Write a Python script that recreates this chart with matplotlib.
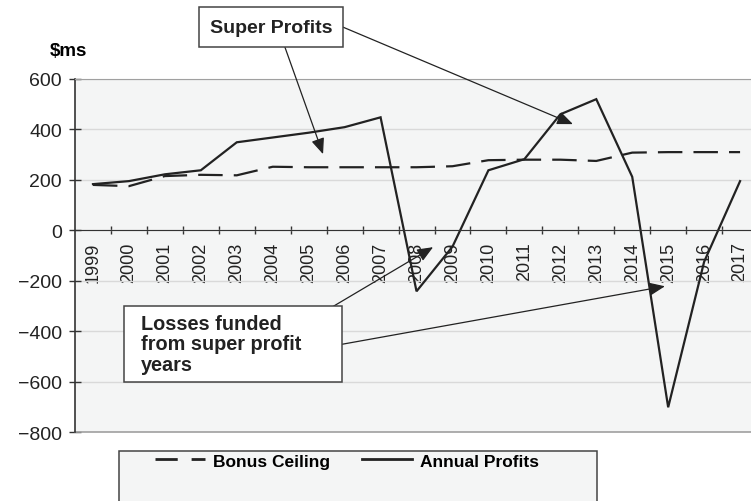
import matplotlib.pyplot as plt
import numpy as np
from matplotlib.patches import Rectangle
from matplotlib.lines import Line2D

plt.rcParams['font.family'] = ['Liberation Sans', 'DejaVu Sans']

years = [str(y) for y in range(1999, 2018)]
annual_profits = [183, 195, 222, 238, 349, 368, 387, 409, 448, -242, -65,
                  238, 282, 460, 520, 212, -702, -125, 195]
bonus_ceiling = [180, 175, 215, 220, 218, 252, 250, 250, 250, 250, 254,
                 278, 280, 280, 275, 308, 310, 310, 310]

W, H = 751, 502
fig = plt.figure(figsize=(W / 100, H / 100), dpi=100)

def fx(px):
    return px / W

def fy(py):
    return 1 - py / H

ax = fig.add_axes([fx(75), fy(433), fx(751) - fx(75), fy(80) - fy(433)])
ax.set_facecolor('#f4f5f5')

x = np.arange(len(years))
ax.plot(x, annual_profits, color='#222222', lw=1.6, solid_joinstyle='miter')
ax.plot(x, bonus_ceiling, color='#222222', lw=1.6, linestyle=(0, (11, 5)))

ax.set_xlim(-0.5, -0.5 + 676 / 35.95)
ax.set_ylim(-800, 600)
ax.set_yticks(range(-800, 601, 200))
ax.grid(axis='y', color='#d9d9d9', lw=1)
ax.set_axisbelow(True)

# category labels at centres, tick marks on the boundaries
ax.set_xticks(x)
ax.set_xticklabels(years)
ax.set_xticks(x[:-1] + 0.5, minor=True)
ax.tick_params(axis='x', which='major', length=0, pad=8, labelrotation=90,
               labelsize=13, labelcolor='#222222')
ax.tick_params(axis='x', which='minor', direction='inout', length=6, width=1, color='#333333')
ax.tick_params(axis='y', direction='inout', length=9, width=1, color='#333333',
               labelsize=14, labelcolor='#222222', pad=5)
for lbl in ax.get_xticklabels():
    lbl.set_va('top')

ax.spines['bottom'].set_position(('data', 0))
ax.spines['bottom'].set_color('#333333')
ax.spines['left'].set_color('#333333')
ax.spines['left'].set_linewidth(1.2)
ax.spines['right'].set_visible(False)
ax.spines['top'].set_color('#a0a0a0')
ax.axhline(-800, color='#a0a0a0', lw=1.2, clip_on=False)

fig.text(fx(50), fy(52), '$ms', fontsize=13.5, fontweight='bold', va='center', ha='left')

arrow_kw = dict(arrowstyle='-|>,head_length=0.6,head_width=0.25', color='#222222', lw=0.9,
                mutation_scale=16, shrinkA=0, shrinkB=0)
ax.annotate('', xy=(6.40, 302), xytext=(5.34, 726), arrowprops=arrow_kw, annotation_clip=False)
ax.annotate('', xy=(13.35, 421), xytext=(6.95, 806), arrowprops=arrow_kw, annotation_clip=False)
ax.annotate('', xy=(9.46, -67), xytext=(6.68, -302), arrowprops=arrow_kw, annotation_clip=False)
ax.annotate('', xy=(15.91, -222), xytext=(6.93, -452), arrowprops=arrow_kw, annotation_clip=False)

box_kw = dict(facecolor='white', edgecolor='#444444', lw=1.1)
fig.patches.append(Rectangle((fx(199), fy(48)), fx(144), fy(8) - fy(48),
                             transform=fig.transFigure, **box_kw))
fig.text(fx(271), fy(29), 'Super Profits', fontsize=14, fontweight='bold',
         ha='center', va='center', color='#222222')

box2 = Rectangle((fx(124), fy(383)), fx(218), fy(307) - fy(383),
                 transform=fig.transFigure, zorder=5, **box_kw)
fig.add_artist(box2)
fig.text(fx(141), fy(345), 'Losses funded\nfrom super profit\nyears', fontsize=14.3,
         fontweight='bold', ha='left', va='center', color='#222222',
         linespacing=1.1, zorder=6)

# legend panel, runs off the bottom edge
fig.add_artist(Rectangle((fx(119), fy(560)), fx(478), fy(452) - fy(560),
                         transform=fig.transFigure, facecolor='#f4f5f5',
                         edgecolor='#444444', lw=1.1))
handles = [Line2D([], [], color='#222222', lw=2, linestyle=(0, (8, 5))),
           Line2D([], [], color='#222222', lw=2)]
fig.legend(handles, ['Bonus Ceiling', 'Annual Profits'], loc='center left',
           bbox_to_anchor=(fx(155), fy(462)), ncol=2, frameon=False,
           prop={'weight': 'bold', 'size': 12.5}, handlelength=2.9,
           handletextpad=0.45, columnspacing=1.8, borderpad=0, borderaxespad=0)

fig.savefig('out.png', dpi=100)
